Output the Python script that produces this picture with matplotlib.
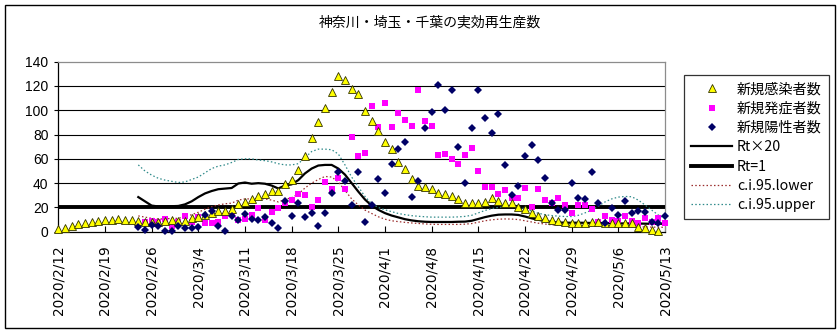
import numpy as np
import pandas as pd
import matplotlib
matplotlib.use('Agg')
import matplotlib.pyplot as plt
from matplotlib.patches import Rectangle

nan = np.nan

# ---- data ----
start_all = '2020-02-12'
start_rt = '2020-02-24'

# 新規感染者数 (from 2020/2/12)
infected = [2, 3, 5, 6, 7, 8, 9, 9.5, 10, 10.5, 10, 9.5, 8.5, 8, 8, 8, 9, 9.5, 9, 9,
            11, 12, 14, 15, 17, 17, 18.5, 22.7, 24.7, 26.6, 29.6, 30.7, 33.4, 33.4, 39, 42.5,
            50.7, 62.7, 77, 90, 102, 115, 128.5, 125, 117.5, 113.7, 99.7, 91, 83, 73.5, 67.7,
            57, 52, 43.8, 38, 37, 34.8, 32, 30.7, 29.3, 26.6, 23.3, 24, 24, 24.7, 27.7, 25.5,
            24, 24, 20, 18.4, 15, 12.9, 11, 9.6, 8.8, 8, 7.4, 7.4, 7.4, 8, 8, 7.5, 7, 7, 7,
            7, 4, 2.7, 1, 0.5]

# 新規発症者数 (from 2020/2/24)
onset = [5.5, 7.7, 8.8, 7.7, 10.5, 4.8, 8, 13, 8, 12.3, 7.4, 7.4, 8, 13, 14.5, 9.6, 10.2,
         14, 19.3, 9.3, 16.5, 19.3, 24, 26.5, 31, 30.4, 20, 26.5, 41, 35, 44, 35.5, 78, 62,
         65, 103.5, 86, 105.8, 86.5, 97.5, 92, 87, 116.7, 91.4, 87, 63, 63.8, 60, 55.6, 63,
         69, 50, 37, 37, 31, 34, 27.4, 27.4, 36, 20, 34.8, 26, 23.3, 28, 22, 15, 22, 22,
         18.4, 8, 13, 9.6, 9, 13, 9, 7.4, 11, 8.2, 11, 7.4]

# 新規陽性者数 (from 2020/2/24)
positive = [4, 1.4, 5.5, 4.6, 0.5, 0.5, 4.6, 2.7, 3, 4, 13.7, 17, 5, 0.5, 13, 10, 14.5,
            10.3, 9.6, 12.3, 7.2, 2.7, 25, 13, 23.3, 12, 15.8, 4.8, 15.8, 31.8, 49.2, 42,
            22.4, 49.5, 8.2, 22, 43.5, 32, 55.5, 68, 74, 28.8, 42, 85.8, 98.3, 121, 100, 117,
            70, 40.3, 85, 116.5, 93.4, 81.5, 97, 54.8, 30, 37.6, 62, 71.4, 59, 44, 24, 17.9,
            17.9, 39.8, 27.5, 26.7, 49.4, 24, 7.4, 19.3, 13.7, 25, 15.7, 17, 16.5, 8.2, 7.4, 13]

# Rt × 20 (from 2020/2/24)
rt20 = [28.5, 25, 21.5, 20.8, 20.8, 21, 21.2, 22.5, 25, 28.5, 31.5, 33.5, 35, 35.5, 36,
        39.7, 40.5, 39.5, 40, 39.5, 38, 35.6, 38, 39, 42.5, 48, 52, 54.5, 55, 55, 52, 47,
        40, 33, 26.5, 21.5, 18, 15.3, 13.3, 11.8, 10.3, 9.3, 8.6, 8.2, 8, 8, 8, 8, 8.2, 8.3,
        9, 10.5, 12, 13.2, 14, 14.2, 14.2, 13.8, 12.5, 11, 9.8, 8.8, 8, 7.6, 7.4, 7.4, 7.4,
        7.3, 7.2, 7.2, 7.1, 7, 6.8, 6.8, 6.8, 6.7, 6.6, 6.5, 6.5, 6.5]

# Rt = 1 (× 20) over the whole period
rt_one = [20] * 92

# c.i.95.lower (from 2020/2/24)
ci_lower = [13, 12, 11, 10.5, 10.5, 11, 11, 12.5, 14, 16, 18.5, 20.5, 22, 23, 23.5, 26, 27,
            27, 27.5, 27, 26, 24.5, 26.5, 28, 31, 36, 40, 43, 45.5, 45, 41, 34, 27, 22, 17.8,
            15, 12.3, 10.3, 9, 8.3, 7.7, 7.2, 6.8, 6.4, 6.1, 6, 6, 6, 6, 6.2, 6.7, 7.8, 9, 9.8,
            10.3, 10.5, 10.4, 10, 9, 8, 7, 6.3, 5.7, 5.4, 5.2, 5.1, 5, 4.9, 4.8, 4.7, 4.6,
            4.4, 4.3, 4.2, 4.1, 4, 3.9, 3.8, 3.7, 3.6]

# c.i.95.upper (from 2020/2/24)
ci_upper = [55, 50, 46.6, 44, 42.5, 41.5, 40.5, 41, 43, 45, 48.5, 52, 54, 55, 57, 59.5, 60,
            60, 59, 58.5, 57.5, 56, 55, 55, 56, 61, 66, 68, 68, 67.5, 64, 55, 45, 37, 29, 23,
            20, 18, 16.5, 15, 14, 13.2, 12.7, 12.3, 12, 12, 12, 12, 12.2, 12.6, 13.5, 15.5,
            17.5, 19, 20, 20.5, 20.5, 20, 19, 17, 15.2, 14, 13.3, 12.8, 12.5, 12.5, 13.5,
            15.5, 17.8, 21, 24.5, 27, 28.5, 29, 28.8, 26, 22, 17.8, 13.7, 11]

tick_labels = ['2020/2/12', '2020/2/19', '2020/2/26', '2020/3/4', '2020/3/11',
               '2020/3/18', '2020/3/25', '2020/4/1', '2020/4/8', '2020/4/15',
               '2020/4/22', '2020/4/29', '2020/5/6', '2020/5/13']
y_ticks = [0, 20, 40, 60, 80, 100, 120, 140]

title = '神奈川・埼玉・千葉の実効再生産数'
labels = ['新規感染者数', '新規発症者数', '新規陽性者数', 'Rt×20', 'Rt=1',
          'c.i.95.lower', 'c.i.95.upper']

# ---- figure ----
cjk = ['Noto Sans CJK JP', 'DejaVu Sans']
W, H = 840, 333
fig = plt.figure(figsize=(W / 100, H / 100), dpi=100)
fig.patch.set_facecolor('white')
fig.patches.append(Rectangle((5 / W, 5 / H), 830 / W, 323 / H, transform=fig.transFigure,
                             fill=False, edgecolor='black', linewidth=1.0))

ax = fig.add_axes([58.3 / W, 1 - 231.7 / H, (665 - 58.3) / W, (231.7 - 61.7) / H])

d_all = pd.date_range(start_all, periods=len(infected), freq='D')
d_rt = pd.date_range(start_rt, periods=len(rt20), freq='D')
d_one = pd.date_range(start_all, periods=len(rt_one), freq='D')

for y in y_ticks[1:-1]:
    ax.axhline(y, color='black', linewidth=0.8, zorder=1)

h_rt20, = ax.plot(d_rt, rt20, color='black', linewidth=1.6, zorder=3)
h_one, = ax.plot(d_one, rt_one, color='black', linewidth=2.8, zorder=3)
h_low, = ax.plot(d_rt, ci_lower, color='#9b2d2d', linewidth=0.9, linestyle=(0, (1.2, 1.8)), zorder=3)
h_up, = ax.plot(d_rt, ci_upper, color='#2f8a8a', linewidth=0.9, linestyle=(0, (1.2, 1.8)), zorder=3)

h_inf, = ax.plot(d_all, infected, linestyle='none', marker='^', markersize=5.3,
                 markerfacecolor='#ffff00', markeredgecolor='#333300', markeredgewidth=0.6,
                 zorder=5, clip_on=False)
h_ons, = ax.plot(d_rt, onset, linestyle='none', marker='s', markersize=4.8,
                 markerfacecolor='#ff00ff', markeredgecolor='#ff00ff', markeredgewidth=0,
                 zorder=4, clip_on=False)
h_pos, = ax.plot(d_rt, positive, linestyle='none', marker='D', markersize=4.2,
                 markerfacecolor='#000066', markeredgecolor='#000066', markeredgewidth=0,
                 zorder=6, clip_on=False)

tick_pos = pd.to_datetime(tick_labels, format='%Y/%m/%d')
ax.set_xlim(d_one[0], d_one[-1])
ax.set_ylim(y_ticks[0], y_ticks[-1])
ax.set_xticks(tick_pos)
ax.set_xticklabels(tick_labels, rotation=90, fontsize=9.8, family='DejaVu Sans', va='top', ha='center')
ax.set_yticks(y_ticks)
ax.set_yticklabels([str(v) for v in y_ticks], fontsize=10, family='Liberation Sans')
ax.tick_params(axis='x', direction='in', length=4, width=0.8, pad=10, colors='black')
ax.tick_params(axis='y', direction='out', length=3, width=0.8, pad=4, colors='black')

for s in ['left', 'bottom']:
    ax.spines[s].set_color('black')
    ax.spines[s].set_linewidth(0.9)
for s in ['top', 'right']:
    ax.spines[s].set_color('#8c8c8c')
    ax.spines[s].set_linewidth(0.9)

fig.text(430 / W, 1 - 22 / H, title, ha='center', va='center', fontsize=10, family=cjk)

leg = fig.legend([h_inf, h_ons, h_pos, h_rt20, h_one, h_low, h_up], labels,
                 loc='upper left', bbox_to_anchor=(684 / W, 1 - 75 / H),
                 bbox_transform=fig.transFigure, frameon=True, fancybox=False,
                 edgecolor='black', prop={'family': cjk, 'size': 10.2},
                 handlelength=2.9, handletextpad=0.35, labelspacing=0.38,
                 borderpad=0.5, borderaxespad=0, numpoints=1)
leg.get_frame().set_linewidth(0.9)

fig.savefig('out.png', dpi=100, facecolor='white')
